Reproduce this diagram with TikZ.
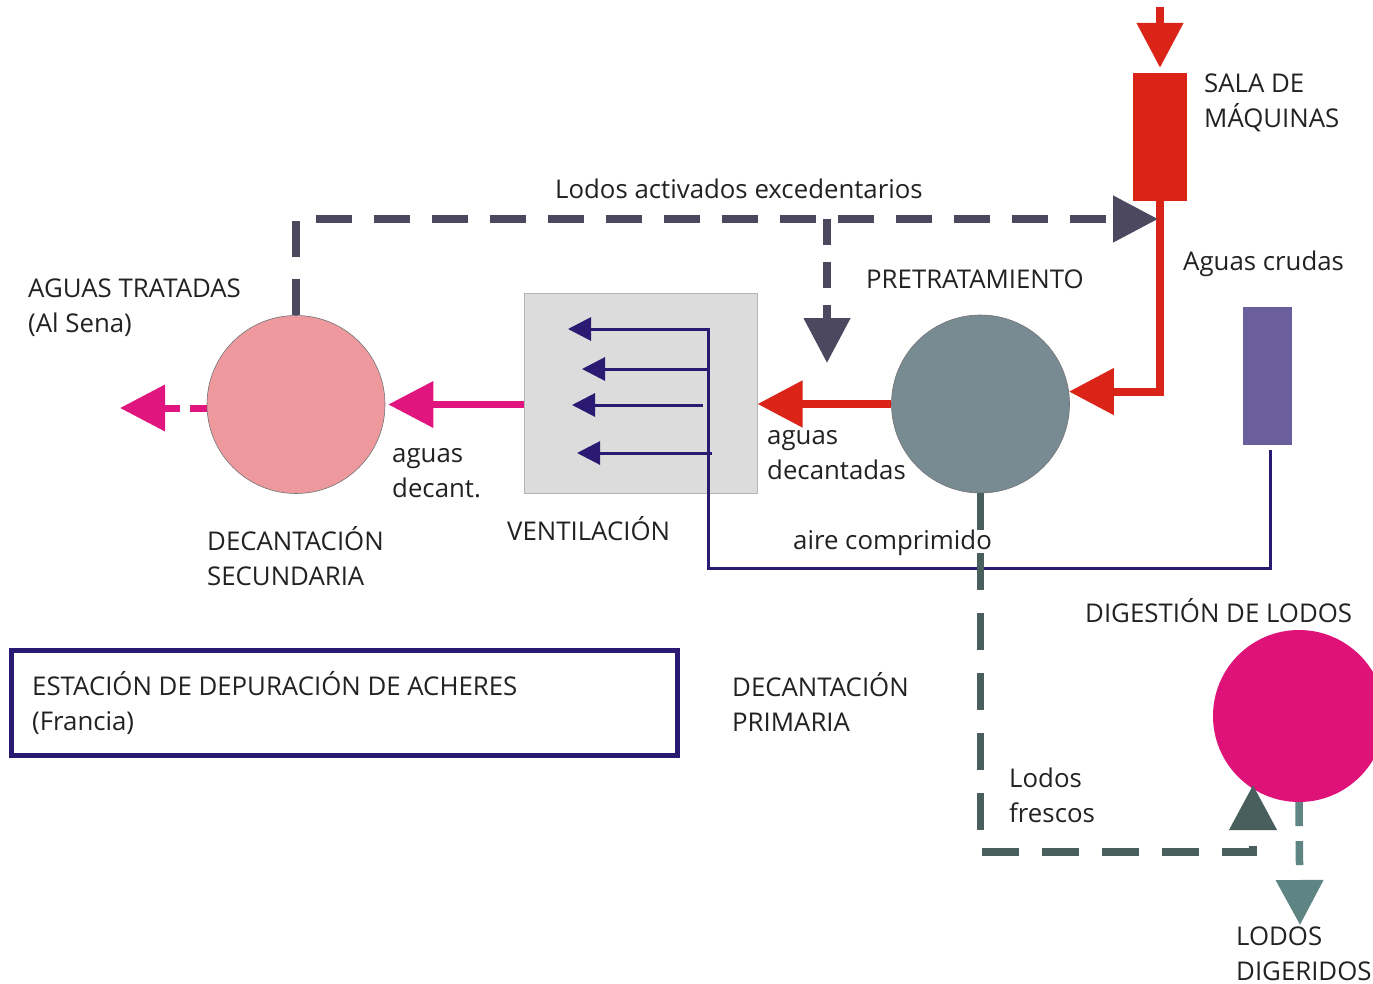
\documentclass[tikz,border=0pt]{standalone}
\usepackage{fontspec}
\setmainfont{Open Sans}
\usetikzlibrary{arrows.meta}
\definecolor{cred}{HTML}{DA2418}
\definecolor{cslate}{HTML}{4B4860}
\definecolor{cgreen}{HTML}{485F5E}
\definecolor{cteal}{HTML}{5E8583}
\definecolor{cnavy}{HTML}{2A1A72}
\definecolor{cpurple}{HTML}{6B5E9C}
\definecolor{cmag}{HTML}{E0167E}
\definecolor{cpink}{HTML}{EE999E}
\definecolor{cgrayc}{HTML}{788A92}
\definecolor{cbox}{HTML}{DCDCDC}
\definecolor{cboxline}{HTML}{B4B4B4}
\definecolor{cdig}{HTML}{DE1279}
\definecolor{ctext}{HTML}{222222}
\begin{document}
\begin{tikzpicture}[x=1pt,y=-1pt,
  lbl/.style={anchor=base west, align=left, text=ctext, inner sep=0pt,
    font=\fontsize{25.8}{35}\selectfont},
  blk/.style={rectangle, draw=none, inner sep=0pt},
  circ/.style={circle, inner sep=0pt, draw=black!55, line width=0.6pt},
  bigtip/.style={-{Triangle[length=45pt,width=45pt]}},
  redarrow/.style={bigtip, draw=cred, line width=8pt},
  magarrow/.style={bigtip, draw=cmag, line width=7pt},
  slateflow/.style={bigtip, draw=cslate, line width=8pt},
  greenflow/.style={-{Triangle[length=45pt,width=46pt]}, draw=cgreen, line width=7.5pt},
  tealflow/.style={-{Triangle[length=45pt,width=46pt]}, draw=cteal, line width=7.5pt},
  airline/.style={draw=cnavy, line width=3pt},
  airtip/.style={-{Triangle[length=23pt,width=23pt]}},
]
\clip (0,0) rectangle (1373,984);
\fill[white] (0,0) rectangle (1373,984);

% ---------- nodes ----------
\node[blk, fill=cred, minimum width=54pt, minimum height=128pt] (sala) at (1160,137) {};
\node[blk, fill=cpurple, minimum width=49pt, minimum height=138pt] (aire) at (1267.5,376) {};
\node[rectangle, fill=cbox, draw=cboxline, line width=1pt, inner sep=0pt,
      minimum width=233pt, minimum height=199pt] (vent) at (640.5,393.5) {};
\node[circ, fill=cgrayc, minimum size=178pt] (prim) at (980.5,404) {};
\node[circ, fill=cpink, minimum size=178pt] (sec) at (296,404.5) {};
\node[circle, inner sep=0pt, fill=cdig, minimum size=172pt] (dig) at (1299,716) {};
\node[rectangle, draw=cnavy, line width=5pt, inner sep=0pt,
      minimum width=666pt, minimum height=105pt] (titlebox) at (344,703) {};

% ---------- free ends ----------
\coordinate (topin) at (1160,7);
\coordinate (outtip) at (120,408);
\coordinate (excend) at (1158,219);
\coordinate (br0) at (827,219);
\coordinate (br1) at (827,363);
\coordinate (a1) at (568,329);
\coordinate (b2) at (708,369) ; \coordinate (a2) at (582,369);
\coordinate (b3) at (703,405) ; \coordinate (a3) at (572,405);
\coordinate (b4) at (712,453) ; \coordinate (a4) at (577,453);
\coordinate (fcorner) at (1253,852);
\coordinate (digout) at (1300,925);

% ---------- connectors ----------
\draw[redarrow] (topin) -- ([yshift=5pt]sala.north);
\draw[redarrow] (sala.south) |- (prim.8);
\draw[redarrow] (prim.west) -- (vent.east |- prim.west);
\draw[magarrow, shorten >=3pt] (vent.west |- sec.east) -- (sec.east);
\draw[magarrow, dash pattern=on 17pt off 10pt on 30pt off 10pt] (sec.west |- outtip) -- (outtip);
\draw[slateflow, dash pattern=on 36.5pt off 21.5pt] (sec.north) |- (excend);
\draw[slateflow, dash pattern=on 26pt off 17pt] (br0) -- (br1);
\draw[airline, airtip] ([xshift=2.5pt,yshift=-5pt]aire.south) |- (708,568) |- (a1);
\draw[airline, airtip] (b2) -- (a2);
\draw[airline, airtip] (b3) -- (a3);
\draw[airline, airtip] (b4) -- (a4);
\draw[greenflow, dash pattern=on 37pt off 23pt] (prim.south) |- (fcorner) -- (fcorner |- 0,785);
\draw[tealflow, dash pattern=on 24pt off 15pt] (dig.south) -- (digout);

% ---------- labels (base = baseline of the last line) ----------
\node[lbl] (lsala) at (1204,128) {SALA DE\\MÁQUINAS};
\node[lbl] (lexc) at (555,199) {Lodos activados excedentarios};
\node[lbl] (lpre) at (866,288) {PRETRATAMIENTO};
\node[lbl] (lcrud) at (1183,271) {Aguas crudas};
\node[lbl] (ltrat) at (28,332) {AGUAS TRATADAS\\(Al Sena)};
\node[lbl] (ldec1) at (392,497) {aguas\\decant.};
\node[lbl] (lsec) at (207,585) {DECANTACIÓN\\SECUNDARIA};
\node[lbl] (lvent) at (507,540) {VENTILACIÓN};
\node[lbl] (ldec2) at (767,479) {aguas\\decantadas};
\node[lbl] (laire) at (793,549) {aire comprimido};
\node[lbl] (ldig) at (1085,622) {DIGESTIÓN DE LODOS};
\node[lbl] (lprim) at (732,731) {DECANTACIÓN\\PRIMARIA};
\node[lbl] (lfres) at (1009,822) {Lodos\\frescos};
\node[lbl] (ldigd) at (1236,980) {LODOS\\DIGERIDOS};
\node[lbl] (ltitle) at (32,730) {ESTACIÓN DE DEPURACIÓN DE ACHERES\\(Francia)};
\end{tikzpicture}
\end{document}
